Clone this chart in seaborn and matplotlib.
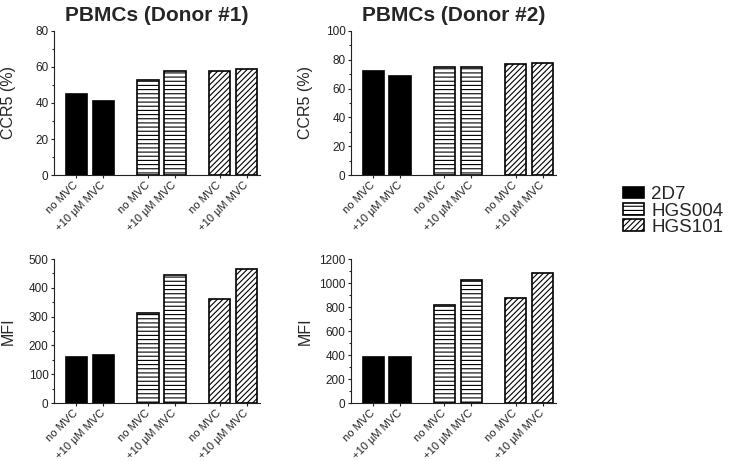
### IMPORTS
import matplotlib
matplotlib.use("Agg")
import matplotlib.pyplot as plt
from matplotlib.patches import Patch
from matplotlib.ticker import MultipleLocator
import seaborn as sb


### DATA
antibodies = ["2D7", "HGS004", "HGS101"]
conditions = ["no MVC", "+10 µM MVC"]

ccr5_donor1 = [45, 41, 53, 58, 58, 59]
ccr5_donor2 = [72, 69, 75, 75, 77, 78]
mfi_donor1 = [160, 167, 313, 443, 361, 467]
mfi_donor2 = [385, 380, 815, 1021, 876, 1080]

titles = ["PBMCs (Donor #1)", "PBMCs (Donor #2)"]


### STYLE
sb.set_style("ticks")
plt.rcParams["font.family"] = ["Liberation Sans", "DejaVu Sans"]
plt.rcParams["hatch.linewidth"] = 0.8
plt.rcParams["axes.edgecolor"] = "#222222"
plt.rcParams["xtick.color"] = "#222222"
plt.rcParams["ytick.color"] = "#222222"

colors = {"2D7": "black", "HGS004": "white", "HGS101": "white"}
hatches = {"2D7": "", "HGS004": "----", "HGS101": "//////"}

# bar positions: two bars per antibody, a gap between antibodies
xpos = [g * 2.65 + j for g in range(len(antibodies)) for j in range(len(conditions))]
groups = [a for a in antibodies for _ in conditions]
labels = [c for _ in antibodies for c in conditions]


def bar_panel(ax, values, ylabel, ymax, major, title=None):
    sb.barplot(x=xpos, y=values, hue=groups, palette=colors, native_scale=True,
               dodge=False, saturation=1, edgecolor="black", linewidth=1.2,
               legend=False, ax=ax)
    for p in ax.patches:
        i = min(range(len(xpos)), key=lambda k: abs(xpos[k] - (p.get_x() + p.get_width() / 2)))
        p.set_hatch(hatches[groups[i]])
    ax.set_xlim(-0.83, 6.8)
    ax.set_ylim(0, ymax)
    ax.yaxis.set_major_locator(MultipleLocator(major))
    ax.yaxis.set_minor_locator(MultipleLocator(major / 2))
    ax.set_xticks(xpos)
    ax.set_xticklabels(labels, rotation=45, ha="right", va="center",
                       rotation_mode="anchor", fontsize=8)
    ax.tick_params(axis="x", length=2.5, width=0.8, pad=3.5)
    ax.tick_params(axis="y", which="major", length=2.5, width=0.8, pad=1.5, labelsize=8.5)
    ax.tick_params(axis="y", which="minor", length=1.5, width=0.8)
    ax.set_ylabel(ylabel, fontsize=11.5)
    ax.yaxis.set_label_coords(-0.185, 0.5)
    if title:
        ax.set_title(title, fontsize=15, fontweight="bold", pad=7)
    sb.despine(ax=ax)


fig = plt.figure(figsize=(7.36, 4.61), dpi=100)
W, H = 736, 461
ax1 = fig.add_axes([54 / W, 1 - 175 / H, 206 / W, 144 / H])
ax2 = fig.add_axes([351 / W, 1 - 175 / H, 205 / W, 144 / H])
ax3 = fig.add_axes([54 / W, 1 - 403 / H, 206 / W, 144 / H])
ax4 = fig.add_axes([351 / W, 1 - 403 / H, 205 / W, 144 / H])

bar_panel(ax1, ccr5_donor1, "CCR5 (%)", 80, 20, titles[0])
bar_panel(ax2, ccr5_donor2, "CCR5 (%)", 100, 20, titles[1])
bar_panel(ax3, mfi_donor1, "MFI", 500, 100)
bar_panel(ax4, mfi_donor2, "MFI", 1200, 200)

handles = [Patch(facecolor=colors[a], edgecolor="black", hatch=hatches[a], linewidth=1.2)
           for a in antibodies]
fig.legend(handles, antibodies, loc="center left", bbox_to_anchor=(623 / W, 1 - 211 / H),
           frameon=False, fontsize=13.5, handlelength=1.1, handleheight=0.55,
           handletextpad=0.4, labelspacing=-0.05, borderpad=0, borderaxespad=0)

fig.savefig("out.png", dpi=100)
